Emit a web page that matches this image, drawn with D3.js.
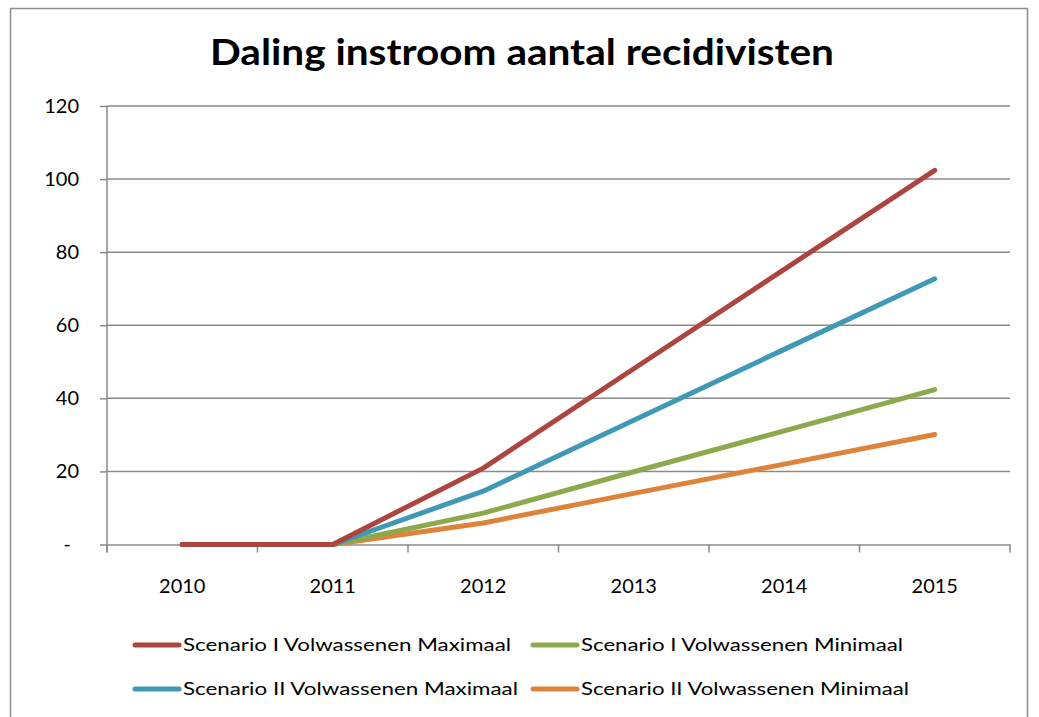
<!DOCTYPE html>
<html>
<head>
<meta charset="utf-8">
<script src="https://cdn.jsdelivr.net/npm/d3@7"></script>
<style>
  body { margin: 0; background: #fff; }
  svg { display: block; font-family: Lato, "Open Sans", sans-serif; }
</style>
</head>
<body>
<div id="chart"></div>
<script>
// Daling instroom aantal recidivisten
const years = ['2010', '2011', '2012', '2013', '2014', '2015'];
const yTicks = [0, 20, 40, 60, 80, 100, 120];

const seriesNames = [
    'Scenario I Volwassenen Maximaal',
    'Scenario I Volwassenen Minimaal',
    'Scenario II Volwassenen Maximaal',
    'Scenario II Volwassenen Minimaal'
];
const s1Max = [0, 0, 20.9, 48.1, 75.3, 102.4];
const s1Min = [0, 0, 8.6, 19.9, 31.1, 42.4];
const s2Max = [0, 0, 14.6, 34.0, 53.4, 72.7];
const s2Min = [0, 0, 5.9, 14.0, 22.0, 30.1];
const colors = ['#AC4540', '#8CA94B', '#3F99B6', '#E0833A'];

const seriesValues = [s1Max, s1Min, s2Max, s2Min];
// drawing order: orange first so red ends up on top
const drawOrder = [3, 1, 2, 0];

const width = 1039, height = 717;
const margin = { left: 107, right: 30, top: 106, bottom: 172 };

const svg = d3.select('#chart').append('svg')
    .attr('width', width)
    .attr('height', height);

// chart frame
svg.append('rect')
    .attr('x', 10.5).attr('y', 8.5)
    .attr('width', 1017).attr('height', 730)
    .attr('fill', '#fff')
    .attr('stroke', '#8c8c8c')
    .attr('stroke-width', 1.5);

const x = d3.scaleBand()
    .domain(years)
    .range([margin.left, 1010]);

const y = d3.scaleLinear()
    .domain([0, 120])
    .range([544.5, 106]);

// gridlines
svg.append('g')
    .selectAll('line')
    .data(yTicks.slice(1))
    .enter().append('line')
    .attr('x1', margin.left).attr('x2', 1010)
    .attr('y1', d => y(d)).attr('y2', d => y(d))
    .attr('stroke', '#8a8a8a')
    .attr('stroke-width', 1.5);

// y axis
const yAxis = svg.append('g')
    .attr('transform', `translate(${margin.left},0)`)
    .call(d3.axisLeft(y).tickValues(yTicks).tickSize(7).tickPadding(21)
        .tickFormat(d => d === 0 ? '-' : d));
yAxis.attr('font-size', null).attr('font-family', null);
yAxis.select('.domain').remove();
yAxis.append('line')
    .attr('x1', 0).attr('x2', 0)
    .attr('y1', y(120)).attr('y2', y(0) + 8)
    .attr('stroke', '#8a8a8a').attr('stroke-width', 1.5);
yAxis.selectAll('.tick line').attr('stroke', '#8a8a8a').attr('stroke-width', 1.5);
yAxis.selectAll('.tick text')
    .attr('fill', '#000')
    .style('font-size', '20px')
    .attr('dx', d => d === 0 ? -8 : 0);

// x axis
const xAxis = svg.append('g')
    .attr('transform', `translate(0,${y(0)})`)
    .call(d3.axisBottom(x).tickSize(0).tickPadding(34));
xAxis.attr('font-size', null).attr('font-family', null);
xAxis.select('.domain')
    .attr('stroke', '#8a8a8a').attr('stroke-width', 1.5);
xAxis.selectAll('.tick text')
    .attr('fill', '#000')
    .style('font-size', '20px');
// boundary ticks between categories
xAxis.selectAll('.cat-tick')
    .data(years.concat(['end']))
    .enter().append('line')
    .attr('x1', (d, i) => margin.left + i * x.bandwidth())
    .attr('x2', (d, i) => margin.left + i * x.bandwidth())
    .attr('y1', 0).attr('y2', 8)
    .attr('stroke', '#8a8a8a').attr('stroke-width', 1.5);

// lines
const line = d3.line()
    .x((d, i) => x(years[i]) + x.bandwidth() / 2)
    .y(d => y(d));

svg.append('g')
    .selectAll('path')
    .data(drawOrder)
    .enter().append('path')
    .attr('d', i => line(seriesValues[i]))
    .attr('fill', 'none')
    .attr('stroke', i => colors[i])
    .attr('stroke-width', 5)
    .attr('stroke-linecap', 'round')
    .attr('stroke-linejoin', 'round');

// title
const title = svg.append('text')
    .attr('x', 522).attr('y', 65)
    .attr('text-anchor', 'middle')
    .style('font-size', '37px')
    .style('font-weight', 'bold')
    .attr('fill', '#000')
    .text('Daling instroom aantal recidivisten');
title.attr('textLength', 624).attr('lengthAdjust', 'spacingAndGlyphs');

// legend
const legendPos = [
    { lx: 133, ly: 645, tw: 328 },
    { lx: 531, ly: 645, tw: 322 },
    { lx: 133, ly: 689, tw: 335 },
    { lx: 531, ly: 689, tw: 328 }
];
const legend = svg.append('g')
    .selectAll('g')
    .data(seriesNames)
    .enter().append('g')
    .attr('transform', (d, i) => `translate(${legendPos[i].lx},${legendPos[i].ly})`);
legend.append('line')
    .attr('x1', 2).attr('x2', 46)
    .attr('stroke', (d, i) => colors[i])
    .attr('stroke-width', 5)
    .attr('stroke-linecap', 'round');
legend.append('text')
    .attr('x', 50).attr('y', 6)
    .style('font-size', '17px')
    .attr('fill', '#000')
    .attr('textLength', (d, i) => legendPos[i].tw)
    .attr('lengthAdjust', 'spacingAndGlyphs')
    .text(d => d);
</script>
</body>
</html>
